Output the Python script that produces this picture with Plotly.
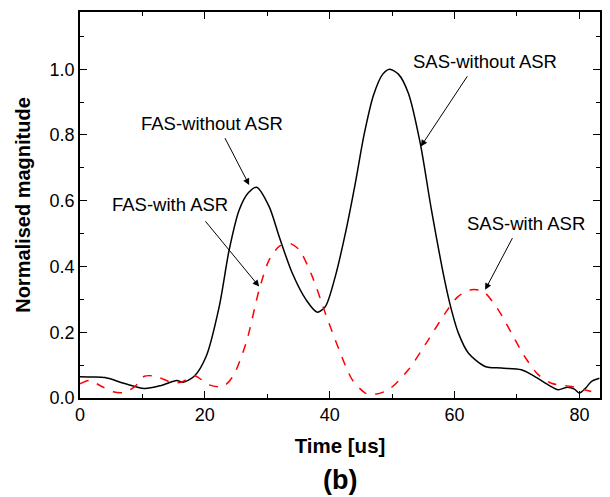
import plotly.graph_objects as go

# Black solid: FAS/SAS without ASR
t_without = [0, 2, 4, 7, 10.3, 13, 15.5, 16.5, 18.3, 20.2, 22.3, 23.9, 25.5, 27, 28.3, 30.3, 31.9,
             34.0, 36.2, 38.0, 39.3, 40.9, 42.5, 44.1, 45.5, 47, 48.5, 49.6, 51, 52.6, 54.5, 56.3,
             58.5, 59.5, 60.6, 62.2, 64.9, 67.5, 70.7, 72.8, 75, 76.6, 78.1, 79.2, 80, 81, 81.9, 83.2]
m_without = [0.065, 0.064, 0.062, 0.045, 0.029, 0.038, 0.053, 0.048, 0.066, 0.126, 0.278, 0.451, 0.572,
             0.625, 0.641, 0.582, 0.491, 0.38, 0.299, 0.261, 0.278, 0.37, 0.5, 0.653, 0.8, 0.92, 0.985,
             1.0, 0.985, 0.927, 0.775, 0.572, 0.35, 0.268, 0.198, 0.137, 0.096, 0.091, 0.086, 0.066,
             0.04, 0.025, 0.033, 0.027, 0.015, 0.03, 0.05, 0.06]

# Red dashed: FAS/SAS with ASR
t_with = [0, 1.5, 3.5, 5.3, 7.1, 8.8, 10.3, 12.1, 14.6, 16.2, 18.3, 20.7, 22.9, 24.5, 26.6, 28.7, 30.3,
          31.9, 33.5, 35.1, 37.2, 39.3, 41.5, 43.6, 45.7, 46.8, 49.4, 52.6, 55.8, 58.5, 60.6, 62.7,
          64.6, 67, 69.1, 71.2, 73.4, 75.5, 78.7, 80.8, 82.9]
m_with = [0.043, 0.053, 0.035, 0.019, 0.017, 0.035, 0.066, 0.066, 0.048, 0.048, 0.068, 0.04, 0.035,
          0.066, 0.167, 0.329, 0.42, 0.461, 0.471, 0.451, 0.37, 0.258, 0.147, 0.056, 0.015, 0.01,
          0.025, 0.086, 0.177, 0.258, 0.309, 0.329, 0.324, 0.268, 0.198, 0.127, 0.071, 0.045, 0.035,
          0.025, 0.015]

x_ticks = [0, 20, 40, 60, 80]
y_ticks = [0.0, 0.2, 0.4, 0.6, 0.8, 1.0]
y_tick_text = ["0.0", "0.2", "0.4", "0.6", "0.8", "1.0"]

# Annotation labels: text, text pos, arrow tail, arrow tip
labels = ["FAS-without ASR", "SAS-without ASR", "FAS-with ASR", "SAS-with ASR"]
label_x = [21.2, 64.9, 14.4, 71.5]
label_y = [0.834, 1.023, 0.588, 0.532]
tail_x = [23.1, 62.2, 19.9, 69.4]
tail_y = [0.795, 0.983, 0.542, 0.491]
tip_x = [27.1, 54.6, 28.7, 64.9]
tip_y = [0.648, 0.765, 0.339, 0.329]

FONT = "Liberation Sans, Arial, sans-serif"

fig = go.Figure()
fig.add_trace(go.Scatter(x=t_without, y=m_without, mode="lines",
                         line=dict(color="black", width=1.5, shape="spline", smoothing=0.8),
                         name="without ASR", showlegend=False))
fig.add_trace(go.Scatter(x=t_with, y=m_with, mode="lines",
                         line=dict(color="#ff0000", width=1.5, dash="dash", shape="spline", smoothing=0.8),
                         name="with ASR", showlegend=False))

for i, txt in enumerate(labels):
    fig.add_annotation(x=label_x[i], y=label_y[i], text=txt, showarrow=False,
                       font=dict(family=FONT, size=18.5, color="black"))
    fig.add_annotation(x=tip_x[i], y=tip_y[i], ax=tail_x[i], ay=tail_y[i],
                       axref="x", ayref="y", text="", showarrow=True,
                       arrowhead=2, arrowsize=1.3, arrowwidth=1, arrowcolor="black")

fig.add_annotation(x=0.5, y=-0.213, xref="paper", yref="paper", text="<b>(b)</b>",
                   showarrow=False, font=dict(family=FONT, size=27, color="black"),
                   xanchor="center", yanchor="middle")

fig.update_layout(
    width=610, height=497,
    margin=dict(l=80, r=8, t=12, b=99),
    paper_bgcolor="white", plot_bgcolor="white",
    font=dict(family=FONT, size=18, color="black"),
    xaxis=dict(range=[0, 83.3], tickvals=x_ticks, ticks="inside", ticklen=7, tickwidth=1.2,
               tickcolor="black", showline=True, linecolor="black", linewidth=1.5, mirror="ticks",
               showgrid=False, zeroline=False,
               minor=dict(ticks="inside", ticklen=4, tickwidth=1.2, tickcolor="black", dtick=10, tick0=0),
               title=dict(text="<b>Time [us]</b>", font=dict(family=FONT, size=20.5), standoff=14)),
    yaxis=dict(range=[0, 1.174], tickvals=y_ticks, ticktext=y_tick_text, ticks="inside", ticklen=7,
               tickwidth=1.2, tickcolor="black", showline=True, linecolor="black", linewidth=1.5,
               mirror="ticks", showgrid=False, zeroline=False,
               minor=dict(ticks="inside", ticklen=4, tickwidth=1.2, tickcolor="black", dtick=0.1, tick0=0),
               title=dict(text="<b>Normalised magnitude</b>", font=dict(family=FONT, size=20), standoff=14)),
)

fig.write_html("out.html")
